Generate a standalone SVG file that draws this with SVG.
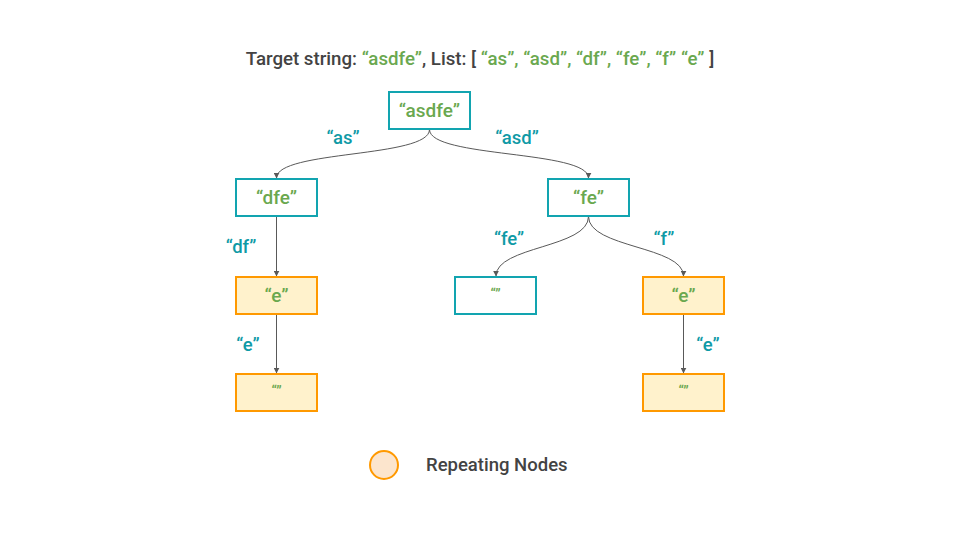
<svg xmlns="http://www.w3.org/2000/svg" width="960" height="540" viewBox="0 0 960 540">
<defs>
<style>
.bg{fill:#ffffff}
.nt rect{fill:#ffffff;stroke:#12a4b0;stroke-width:2}
.no rect{fill:#fff2cc;stroke:#ff9900;stroke-width:2}
.nt text,.no text{font-family:Roboto,"Liberation Sans",sans-serif;font-size:19px;font-weight:500;fill:#6aa84f;text-anchor:middle}
text.empty{font-size:14px}
.lbl{font-family:Roboto,"Liberation Sans",sans-serif;font-size:18.5px;font-weight:500;fill:#0f9aa6;text-anchor:middle}
.edge{fill:none;stroke:#595959;stroke-width:1;marker-end:url(#arr)}
.title{font-family:Roboto,"Liberation Sans",sans-serif;font-size:18.7px;font-weight:500;fill:#434343}
.g{fill:#6aa84f}
</style>
<marker id="arr" viewBox="0 0 10 10" refX="9" refY="5" markerWidth="6" markerHeight="6" orient="auto" markerUnits="userSpaceOnUse">
<path d="M0,0 L10,5 L0,10 z" fill="#595959"/>
</marker>
</defs>
<rect class="bg" x="0" y="0" width="960" height="540"/>
<text class="title" x="480" y="65" text-anchor="middle">Target string: <tspan class="g">“asdfe”</tspan>, List: [ <tspan class="g">“as”, “asd”, “df”, “fe”, “f” “e”</tspan> ]</text>
<g id="connectors">
<path class="edge" d="M429.5,129.5 C429.5,158 276.5,150 276.5,178"/>
<path class="edge" d="M429.5,129.5 C429.5,158 588.5,150 588.5,178"/>
<path class="edge" d="M276.5,216.5 L276.5,276"/>
<path class="edge" d="M276.5,314.5 L276.5,373"/>
<path class="edge" d="M588.5,216.5 C588.5,248 496,246 496,276"/>
<path class="edge" d="M588.5,216.5 C588.5,248 683.5,246 683.5,276"/>
<path class="edge" d="M683.5,314.5 L683.5,373"/>
</g>
<g id="edge-labels">
<text class="lbl" x="343" y="144">“as”</text>
<text class="lbl" x="517" y="144">“asd”</text>
<text class="lbl" x="241" y="253">“df”</text>
<text class="lbl" x="248" y="351">“e”</text>
<text class="lbl" x="509" y="245">“fe”</text>
<text class="lbl" x="664" y="245">“f”</text>
<text class="lbl" x="708" y="351">“e”</text>
</g>
<g id="n-root" class="nt"><rect x="389" y="92" width="81" height="37"/><text x="429.5" y="117">“asdfe”</text></g>
<g id="n-dfe" class="nt"><rect x="236" y="179" width="81" height="37"/><text x="276.5" y="204">“dfe”</text></g>
<g id="n-fe" class="nt"><rect x="548" y="179" width="81" height="37"/><text x="588.5" y="204">“fe”</text></g>
<g id="n-e-left" class="no"><rect x="236" y="277" width="81" height="37"/><text x="276.5" y="302">“e”</text></g>
<g id="n-empty-left" class="no"><rect x="236" y="374" width="81" height="37"/><text class="empty" x="276.5" y="396">“”</text></g>
<g id="n-empty-mid" class="nt"><rect x="455" y="277" width="81" height="37"/><text class="empty" x="495.5" y="299">“”</text></g>
<g id="n-e-right" class="no"><rect x="643" y="277" width="81" height="37"/><text x="683.5" y="302">“e”</text></g>
<g id="n-empty-right" class="no"><rect x="643" y="374" width="81" height="37"/><text class="empty" x="683.5" y="396">“”</text></g>
<g id="legend">
<circle cx="384" cy="465" r="14" fill="#fce5cd" stroke="#ff9900" stroke-width="2"/>
<text class="title" x="426" y="471" style="font-size:18.5px">Repeating Nodes</text>
</g>
</svg>
